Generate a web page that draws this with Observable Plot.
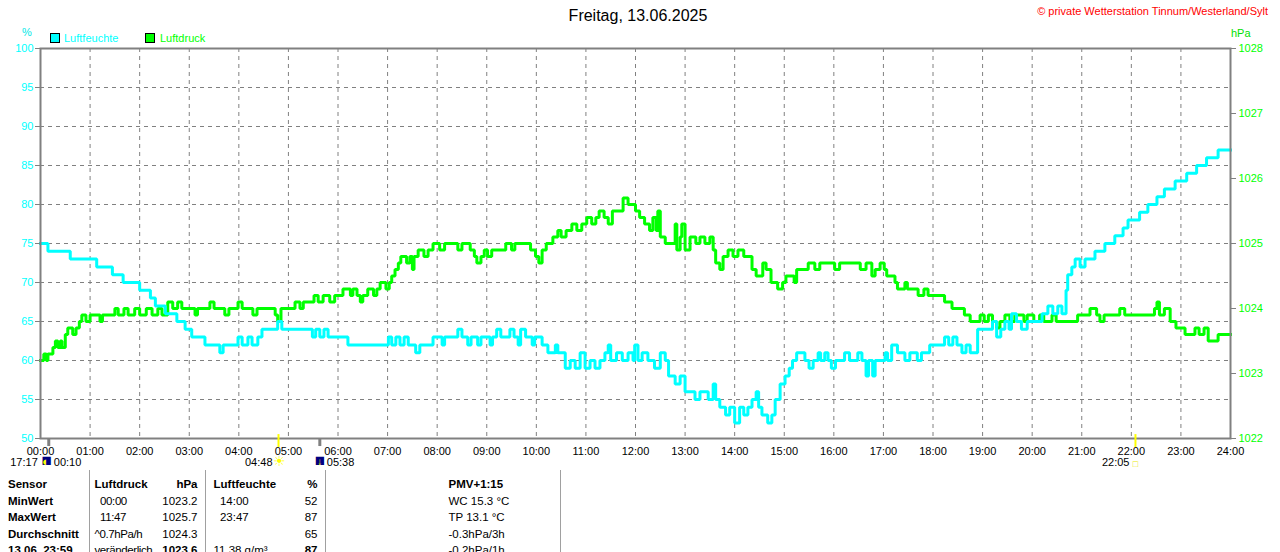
<!DOCTYPE html>
<html><head><meta charset="utf-8">
<script src="https://cdn.jsdelivr.net/npm/d3@7"></script>
<script src="https://cdn.jsdelivr.net/npm/@observablehq/plot@0.6"></script>
<style>
body{margin:0;background:#fff;font-family:"Liberation Sans",Arial,sans-serif;}
#wrap{position:relative;width:1280px;height:552px;overflow:hidden;background:#fff;}
#chart{position:absolute;left:0;top:0;}
.abs{position:absolute;white-space:nowrap;line-height:1;}
#title{left:0;width:1276px;text-align:center;top:8px;font-size:16px;color:#000;}
#copy{right:12px;top:6px;font-size:11px;color:#ff0000;}
#pct{left:22px;top:27px;font-size:11px;color:#00e8e8;}
#hpa{left:1231px;top:28px;font-size:11px;color:#00e000;}
.sw{position:absolute;width:8px;height:8px;border:1px solid #000;top:33px;}
.lg{top:33px;font-size:11px;}
#tbl{position:absolute;left:0;top:470px;border-collapse:collapse;table-layout:fixed;width:560px;font-size:11.5px;}
#tbl td{height:16.5px;padding:0;line-height:16px;overflow:visible;white-space:nowrap;vertical-align:middle;}
#tbl tr.sp td{height:6px;}
#tbl td.c0{width:89px;padding-left:8px;box-sizing:border-box;font-weight:bold;}
#tbl td.c1{width:61px;padding-left:5px;box-sizing:border-box;border-left:1px solid #a0a0a0;letter-spacing:-0.4px;}
#tbl tr.hd td.c1{letter-spacing:0;}
#tbl td.c2{width:55px;padding-right:7px;box-sizing:border-box;text-align:right;}
#tbl td.c3{width:75px;padding-left:8px;box-sizing:border-box;border-left:1px solid #a0a0a0;}
#tbl td.c4{width:45px;padding-right:7px;box-sizing:border-box;text-align:right;}
#tbl td.c5{width:235px;padding-left:123px;box-sizing:border-box;border-left:1px solid #a0a0a0;border-right:1px solid #a0a0a0;}
#tbl tr.hd td{font-weight:bold;}
</style></head><body>
<div id="wrap">
  <div id="chart"></div>
  <div id="title" class="abs"></div>
  <div id="copy" class="abs"></div>
  <div id="pct" class="abs"></div>
  <div id="hpa" class="abs"></div>
  <div id="legend"></div>
  <table id="tbl"></table>
</div>
<script>
// ---------- data ----------
const titleText = "Freitag, 13.06.2025";
const copyrightText = "© private Wetterstation Tinnum/Westerland/Sylt";
const seriesNames = ["Luftfeuchte", "Luftdruck"];
const seriesColors = ["#00ffff", "#00ff00"];
const leftUnit = "%";
const rightUnit = "hPa";

const humTimes = ["00:00","00:09","00:36","01:08","01:27","01:40","02:00","02:13","02:19","02:31","02:45","02:55","03:03","03:19","03:37","03:41","03:59","04:04","04:11","04:16","04:23","04:28","04:47","04:52","05:29","05:33","05:38","05:43","05:48","06:12","07:01","07:05","07:10","07:15","07:20","07:25","07:34","07:39","07:55","08:06","08:09","08:25","08:30","08:37","08:41","08:49","08:53","09:04","09:07","09:12","09:17","09:28","09:33","09:38","09:41","09:47","09:55","09:58","10:07","10:14","10:23","10:26","10:35","10:41","10:47","10:53","10:59","11:05","11:11","11:17","11:23","11:27","11:30","11:37","11:44","11:51","11:57","11:59","12:03","12:08","12:15","12:23","12:30","12:36","12:40","12:48","12:54","13:00","13:12","13:18","13:28","13:34","13:37","13:42","13:49","13:54","14:00","14:06","14:11","14:16","14:21","14:26","14:29","14:33","14:40","14:45","14:49","14:55","15:01","15:06","15:10","15:15","15:25","15:30","15:35","15:41","15:44","15:49","15:53","15:57","16:02","16:13","16:19","16:29","16:34","16:39","16:42","16:47","16:50","17:02","17:05","17:10","17:17","17:26","17:32","17:41","17:46","17:56","18:14","18:19","18:24","18:29","18:35","18:40","18:45","18:54","19:12","19:17","19:22","19:27","19:32","19:35","19:41","19:47","19:54","20:12","20:19","20:25","20:31","20:36","20:41","20:43","20:48","20:52","20:58","21:04","21:16","21:28","21:40","21:50","21:56","22:10","22:20","22:31","22:40","22:53","23:07","23:19","23:31","23:45","24:00"];
const humValues = [75,74,73,72,71,70,69,68,67,66,65,64,63,62,61,62,63,62,63,62,63,64,65,64,63,64,63,64,63,62,63,62,63,62,63,62,61,62,63,62,63,64,63,62,63,62,63,62,63,64,63,64,63,62,64,63,62,63,62,61,62,61,59,60,59,61,59,60,59,60,61,62,60,61,60,61,60,62,60,61,60,59,61,60,58,57,58,56,55,56,55,57,55,54,53,54,52,54,53,54,55,56,54,53,52,53,55,57,58,59,60,61,60,59,60,61,60,61,60,59,60,61,60,61,60,58,60,58,60,61,60,62,61,60,61,60,61,62,63,62,63,62,61,62,61,64,65,63,64,65,64,66,65,64,65,66,67,66,67,66,69,71,72,73,72,73,74,75,76,77,78,79,80,81,82,83,84,85,86,87,87];

const pressTimes = ["00:00","00:04","00:07","00:09","00:15","00:18","00:21","00:24","00:26","00:30","00:33","00:39","00:43","00:47","00:50","00:55","01:00","01:12","01:15","01:30","01:34","01:41","01:46","01:54","02:00","02:08","02:15","02:22","02:27","02:34","02:40","02:46","02:51","03:07","03:10","03:25","03:30","03:43","03:48","03:59","04:04","04:17","04:22","04:44","04:47","04:51","05:08","05:14","05:18","05:31","05:36","05:42","05:50","05:56","06:06","06:15","06:18","06:23","06:27","06:30","06:36","06:43","06:47","06:51","06:58","07:02","07:05","07:09","07:13","07:16","07:23","07:27","07:30","07:32","07:37","07:44","07:49","07:55","08:03","08:09","08:25","08:30","08:40","08:45","08:48","08:53","08:57","09:01","09:06","09:23","09:30","09:34","09:53","09:59","10:03","10:07","10:12","10:20","10:26","10:30","10:36","10:43","10:49","10:55","11:01","11:07","11:12","11:16","11:22","11:27","11:32","11:45","11:51","12:00","12:05","12:11","12:17","12:21","12:25","12:27","12:30","12:36","12:48","12:50","12:54","12:56","13:00","13:06","13:13","13:18","13:24","13:30","13:34","13:37","13:42","13:46","13:52","13:58","14:04","14:11","14:21","14:26","14:34","14:38","14:44","14:52","14:58","15:02","15:12","15:15","15:29","15:37","15:43","16:01","16:07","16:32","16:39","16:46","16:50","16:56","17:01","17:04","17:14","17:17","17:26","17:29","17:42","17:49","17:54","18:14","18:23","18:38","18:45","18:57","19:02","19:07","19:12","19:17","19:21","19:27","19:33","19:39","19:50","19:54","20:02","20:09","20:14","20:24","20:29","20:55","21:10","21:18","21:22","21:27","21:46","21:52","22:28","22:31","22:34","22:40","22:47","22:54","23:05","23:17","23:22","23:28","23:33","23:45","24:00"];
const pressValues = [1023.2,1023.3,1023.2,1023.3,1023.4,1023.5,1023.4,1023.5,1023.4,1023.6,1023.7,1023.6,1023.7,1023.8,1023.9,1023.8,1023.9,1023.8,1023.9,1024.0,1023.9,1024.0,1023.9,1024.0,1023.9,1024.0,1023.9,1024.0,1023.9,1024.1,1024.0,1024.1,1024.0,1023.9,1024.0,1024.1,1024.0,1023.9,1024.0,1024.1,1024.0,1023.9,1024.0,1023.9,1023.8,1024.0,1024.1,1024.0,1024.1,1024.2,1024.1,1024.2,1024.1,1024.2,1024.3,1024.2,1024.3,1024.2,1024.1,1024.2,1024.3,1024.2,1024.3,1024.4,1024.3,1024.4,1024.5,1024.6,1024.7,1024.8,1024.7,1024.8,1024.6,1024.8,1024.9,1024.8,1024.9,1025.0,1024.9,1025.0,1024.9,1025.0,1024.9,1024.8,1024.7,1024.8,1024.9,1024.8,1024.9,1025.0,1024.9,1025.0,1024.9,1024.8,1024.7,1024.9,1025.0,1025.1,1025.2,1025.1,1025.2,1025.3,1025.2,1025.3,1025.4,1025.3,1025.4,1025.5,1025.4,1025.3,1025.5,1025.7,1025.6,1025.5,1025.4,1025.3,1025.2,1025.4,1025.2,1025.5,1025.1,1025.0,1025.3,1024.9,1025.1,1025.3,1024.9,1025.1,1025.0,1025.1,1025.0,1025.1,1024.9,1024.7,1024.6,1024.8,1024.9,1024.8,1024.9,1024.8,1024.6,1024.5,1024.7,1024.6,1024.4,1024.3,1024.4,1024.5,1024.4,1024.6,1024.7,1024.6,1024.7,1024.6,1024.7,1024.6,1024.7,1024.5,1024.6,1024.7,1024.6,1024.5,1024.4,1024.3,1024.4,1024.3,1024.2,1024.3,1024.2,1024.1,1024.0,1023.9,1023.8,1023.9,1023.8,1023.9,1023.8,1023.7,1023.8,1023.9,1023.8,1023.9,1023.8,1023.9,1023.8,1023.9,1023.8,1023.9,1023.8,1023.9,1024.0,1023.9,1023.8,1023.9,1024.0,1023.9,1024.0,1024.1,1023.9,1024.0,1023.8,1023.7,1023.6,1023.7,1023.6,1023.7,1023.5,1023.6,1023.6];

const xTickLabels = ["00:00","01:00","02:00","03:00","04:00","05:00","06:00","07:00","08:00","09:00","10:00","11:00","12:00","13:00","14:00","15:00","16:00","17:00","18:00","19:00","20:00","21:00","22:00","23:00","24:00"];
const leftTicks = [50,55,60,65,70,75,80,85,90,95,100];
const rightTicks = [1022,1023,1024,1025,1026,1027,1028];

// sun / moon events below the time axis
const moonRise = "17:17", moonSet = "00:10";
const sunRise = "04:48", moonEvent2 = "05:38", sunSet = "22:05";
const sunTimes = [sunRise, sunSet];
const moonTimes = [moonSet, moonEvent2];

const tableHeader = ["Sensor","Luftdruck","hPa","Luftfeuchte","%","PMV+1:15"];
const tableRows = [
  ["MinWert","\u00a0 00:00","1023.2","\u00a0 14:00","52","WC 15.3 °C"],
  ["MaxWert","\u00a0 11:47","1025.7","\u00a0 23:47","87","TP 13.1 °C"],
  ["Durchschnitt","^0.7hPa/h","1024.3","","65","-0.3hPa/3h"],
  ["13.06.&nbsp;23:59","veränderlich","<b>1023.6</b>","11.38 g/m³","<b>87</b>","-0.2hPa/1h"]
];

// ---------- helpers ----------
const toMin = s => +s.slice(0,2) * 60 + +s.slice(3,5);
const pMin = 1022, pMax = 1028, hMin = 50, hMax = 100;
const pToH = p => hMin + (p - pMin) * (hMax - hMin) / (pMax - pMin);
const hToP = h => pMin + (h - hMin) * (pMax - pMin) / (hMax - hMin);

const humData = humTimes.map((t, i) => ({t: toMin(t), v: humValues[i]}));
const pressData = pressTimes.map((t, i) => ({t: toMin(t), v: pToH(pressValues[i])}));
const hourTicks = xTickLabels.map(toMin);
const innerHours = hourTicks.slice(1, -1);
const innerLeft = leftTicks.slice(1, -1);

const font = "'Liberation Sans', Arial, sans-serif";
const grid = "#808080";
const lab = {frameAnchor: "bottom", dy: 27, fill: "black", fontSize: 11};

const chart = Plot.plot({
  width: 1280, height: 470,
  marginTop: 48, marginLeft: 40, marginRight: 50, marginBottom: 32,
  x: {domain: [0, 1440]},
  y: {domain: [hMin, hMax]},
  style: {fontFamily: font, fontSize: "11px", background: "white", overflow: "visible"},
  marks: [
    Plot.ruleY(innerLeft, {stroke: grid, strokeDasharray: "4,4", strokeWidth: 1}),
    Plot.ruleX(innerHours, {stroke: grid, strokeDasharray: "4,4", strokeWidth: 1}),
    Plot.line(pressData, {x: "t", y: "v", curve: "step-after", stroke: seriesColors[1], strokeWidth: 3, strokeLinejoin: "miter", strokeLinecap: "square"}),
    Plot.line(humData, {x: "t", y: "v", curve: "step-after", stroke: seriesColors[0], strokeWidth: 3, strokeLinejoin: "miter", strokeLinecap: "square"}),
    Plot.frame({stroke: grid, strokeWidth: 2}),
    // left axis (%)
    Plot.axisY(leftTicks, {anchor: "left", tickSize: 5, tickPadding: 2, stroke: grid, fill: seriesColors[0], fontSize: 11, label: null}),
    // right axis (hPa)
    Plot.axisY(rightTicks.map(pToH), {anchor: "right", tickSize: 5, tickPadding: 3, stroke: grid, fill: seriesColors[1], fontSize: 11, label: null,
      tickFormat: d => String(Math.round(hToP(d)))}),
    // time axis labels
    Plot.axisX(hourTicks, {anchor: "bottom", tickSize: 0, tickPadding: 9, fill: "black", fontSize: 11, label: null,
      tickFormat: d => xTickLabels[Math.round(d / 60)]}),
    // sun / moon event ticks
    Plot.ruleX(moonTimes, {x: toMin, y1: 50, y2: 48.97, stroke: grid, strokeWidth: 3}),
    Plot.ruleX(sunTimes, {x: toMin, y1: 50.5, y2: 48.85, stroke: "#ffff00", strokeWidth: 2}),
    // moon (left)
    Plot.text([moonSet], {...lab, x: toMin, text: () => moonRise, dx: -11, textAnchor: "end"}),
    Plot.text([moonSet], {...lab, x: toMin, text: () => "■", dx: -2, dy: 27, fill: "#000080", fontSize: 17}),
    Plot.text([moonSet], {...lab, x: toMin, text: () => "◖", dx: -4, dy: 27, fill: "#ffff00", fontSize: 13}),
    Plot.text([moonSet], {...lab, x: toMin, text: d => d, dx: 5, textAnchor: "start"}),
    // sunrise
    Plot.text([sunRise], {...lab, x: toMin, text: d => d, dx: -6, textAnchor: "end"}),
    Plot.text([sunRise], {...lab, x: toMin, text: () => "☀", dx: 1, fill: "#ffff00", fontSize: 14}),
    // second moon event
    Plot.text([moonEvent2], {...lab, x: toMin, text: () => "■", dx: 0, dy: 27, fill: "#000080", fontSize: 17}),
    Plot.text([moonEvent2], {...lab, x: toMin, text: () => "↓", dx: 0, dy: 26, fill: "#ffff00", fontSize: 10, fontWeight: "bold"}),
    Plot.text([moonEvent2], {...lab, x: toMin, text: d => d, dx: 7, textAnchor: "start"}),
    // sunset
    Plot.text([sunSet], {...lab, x: toMin, text: d => d, dx: -6, textAnchor: "end"}),
    Plot.text([sunSet], {...lab, x: toMin, text: () => "□", dx: 0, dy: 28, fill: "#e8e800", fontSize: 9})
  ]
});
document.getElementById("chart").appendChild(chart);

// ---------- header texts ----------
document.getElementById("title").textContent = titleText;
document.getElementById("copy").textContent = copyrightText;
document.getElementById("pct").textContent = leftUnit;
document.getElementById("hpa").textContent = rightUnit;
const lg = document.getElementById("legend");
const swLeft = [50, 145], txLeft = [64, 160];
seriesNames.forEach((n, i) => {
  const s = document.createElement("div");
  s.className = "sw"; s.style.left = swLeft[i] + "px"; s.style.background = seriesColors[i];
  lg.appendChild(s);
  const t = document.createElement("div");
  t.className = "abs lg"; t.style.left = txLeft[i] + "px"; t.style.color = seriesColors[i];
  t.textContent = n;
  lg.appendChild(t);
});

// ---------- table ----------
const tbl = document.getElementById("tbl");
let html = '<tr class="sp"><td class="c0"></td><td class="c1"></td><td class="c2"></td><td class="c3"></td><td class="c4"></td><td class="c5"></td></tr>';
html += '<tr class="hd">' + tableHeader.map((h, i) => `<td class="c${i}">${h}</td>`).join("") + "</tr>";
tableRows.forEach(r => {
  html += "<tr>" + r.map((c, i) => `<td class="c${i}">${c}</td>`).join("") + "</tr>";
});
tbl.innerHTML = html;
</script>
</body></html>
